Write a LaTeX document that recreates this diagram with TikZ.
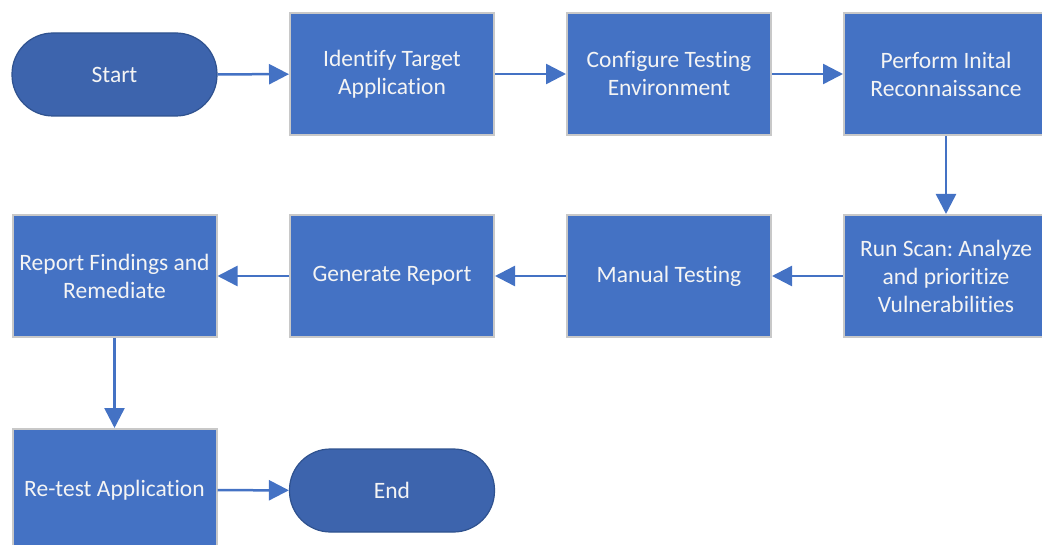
\documentclass[tikz,border=0pt]{standalone}
\usepackage{fontspec}
\setmainfont{Carlito}[Ligatures={NoCommon}]
\usetikzlibrary{arrows.meta}
\definecolor{boxblue}{HTML}{4472C4}
\definecolor{termblue}{HTML}{3D64AD}
\definecolor{termedge}{HTML}{2F528F}
\definecolor{edgegray}{HTML}{C8C8C8}
\definecolor{txt}{HTML}{F4F4F4}
\tikzset{
  procbox/.style={rectangle, fill=boxblue, draw=edgegray, line width=2pt,
    minimum width=204pt, minimum height=122pt, inner sep=0pt, align=center,
    text=txt, font=\fontsize{23.5}{28}\selectfont},
  termbox/.style={rectangle, rounded corners=41pt, fill=termblue, draw=termedge, line width=1.2pt,
    minimum width=205pt, minimum height=83pt, align=center,
    text=txt, font=\fontsize{23.5}{28}\selectfont},
  flow/.style={draw=boxblue, line width=2.5pt, -{Triangle[length=20pt,width=20pt]}}
}
\begin{document}
\frenchspacing
\begin{tikzpicture}[x=1pt,y=-1pt]
\useasboundingbox (0,0) rectangle (1042,545);
\clip (0,0) rectangle (1042,545);
\node[termbox] (start) at (114.5,74.5) {Start};
\node[procbox] (ident) at (392,74) {Identify Target\\Application};
\node[procbox] (conf) at (669,74) {Configure Testing\\Environment};
\node[procbox] (recon) at (946,74) {Perform Inital\\Reconnaissance};
\node[procbox] (scan) at (946,276) {Run Scan: Analyze\\and prioritize\\Vulnerabilities};
\node[procbox] (manual) at (669,276) {Manual Testing};
\node[procbox] (gen) at (392,276) {Generate Report};
\node[procbox] (rep) at (114.5,276) {Report Findings and\\Remediate};
\node[procbox] (retest) at (114.5,490) {Re-test Application};
\node[termbox] (end) at (392,490.5) {End};
\draw[flow] (start) -- (ident);
\draw[flow] (ident) -- (conf);
\draw[flow] (conf) -- (recon);
\draw[flow] (recon) -- (scan);
\draw[flow] (scan) -- (manual);
\draw[flow] (manual) -- (gen);
\draw[flow] (gen) -- (rep);
\draw[flow] (rep) -- (retest);
\draw[flow] (retest) -- (end);
\end{tikzpicture}
\end{document}
